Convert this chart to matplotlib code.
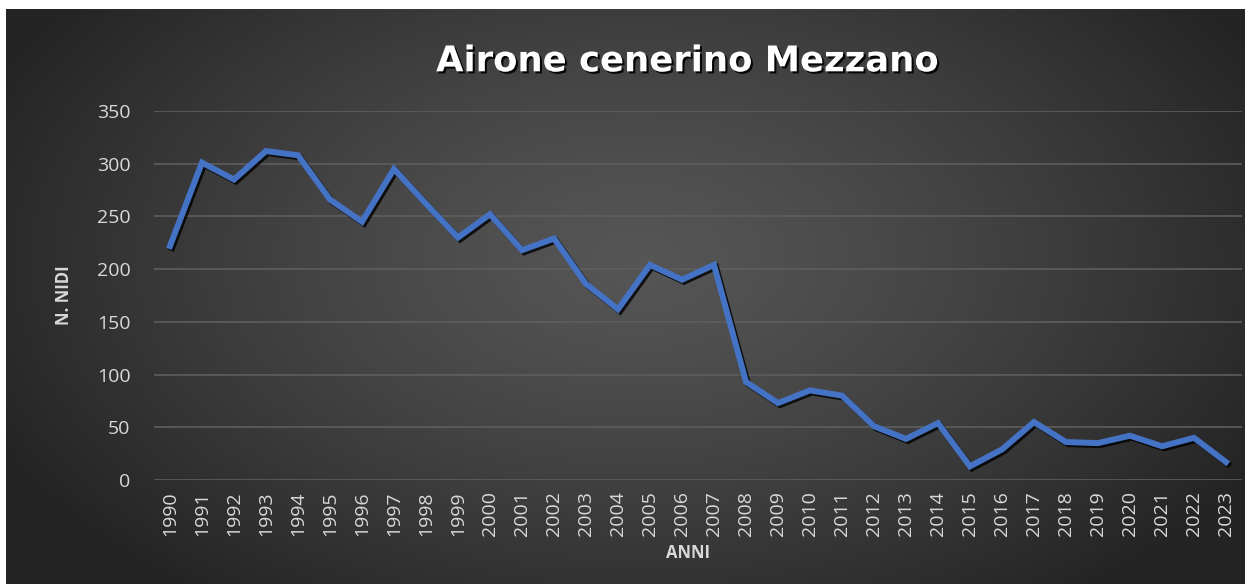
import numpy as np
import matplotlib.pyplot as plt
import matplotlib.patheffects as pe

# Dati
anni = [str(a) for a in range(1990, 2024)]
nidi = [222, 301, 285, 312, 308, 266, 245, 295, 262, 230,
        252, 218, 229, 186, 162, 204, 190, 204, 93, 73,
        85, 80, 51, 39, 54, 13, 29, 55, 36, 35,
        42, 32, 40, 17]

W, H = 1245, 584
fig = plt.figure(figsize=(W / 100, H / 100), dpi=100, facecolor='white')

# sfondo con gradiente radiale
bg = fig.add_axes([6 / W, 0, (W - 6) / W, (H - 9) / H])
bg.set_axis_off()
yy, xx = np.mgrid[0:575, 0:1239]
cx, cy = 630, 250
r = np.sqrt(((xx - cx) / 700.0) ** 2 + ((yy - cy) / 420.0) ** 2)
g = 0.335 - 0.19 * np.clip(r, 0, 1) ** 1.3
img = np.dstack([g, g, g])
bg.imshow(img, aspect='auto', extent=[0, 1, 0, 1], origin='upper')
bg.set_xlim(0, 1)
bg.set_ylim(0, 1)

ax = fig.add_axes([154 / W, (H - 480) / H, (1242 - 154) / W, (480 - 111) / H])
ax.patch.set_alpha(0)
x = np.arange(len(anni))
ax.plot(x, nidi, color='#4472C4', lw=4.3, solid_joinstyle='miter',
        path_effects=[pe.SimpleLineShadow(offset=(1.5, -1.5), shadow_color='black', alpha=0.8),
                      pe.Normal()])
ax.set_xlim(-0.5, len(anni) - 0.5)
ax.set_ylim(0, 350)
ax.set_yticks(range(0, 351, 50))
ax.set_xticks(x)
ax.set_xticklabels(anni, rotation=90)
ax.grid(axis='y', color='#5e5e5e', lw=1.2)
ax.set_axisbelow(True)
for s in ax.spines.values():
    s.set_visible(False)
ax.tick_params(length=0, colors='#d9d9d9', labelsize=14)
ax.tick_params(axis='x', pad=8)
ax.tick_params(axis='y', pad=17)
for t in ax.get_xticklabels() + ax.get_yticklabels():
    t.set_family('Open Sans')

ax.set_ylabel('N. NIDI', family='Open Sans', weight='bold', fontsize=12,
              color='#d9d9d9', labelpad=17)
ax.set_xlabel('ANNI', family='Open Sans', weight='bold', fontsize=12,
              color='#d9d9d9', va='center')
ax.xaxis.set_label_coords(0.491, -0.198)

fig.text(0.552, 0.895, 'Airone cenerino Mezzano', ha='center', va='center',
         family='DejaVu Sans', weight='bold', fontsize=25.5, color='white',
         path_effects=[pe.withSimplePatchShadow(offset=(1.5, -1.5), shadow_rgbFace='black', alpha=0.9)])

plt.savefig('out.png', dpi=100)
